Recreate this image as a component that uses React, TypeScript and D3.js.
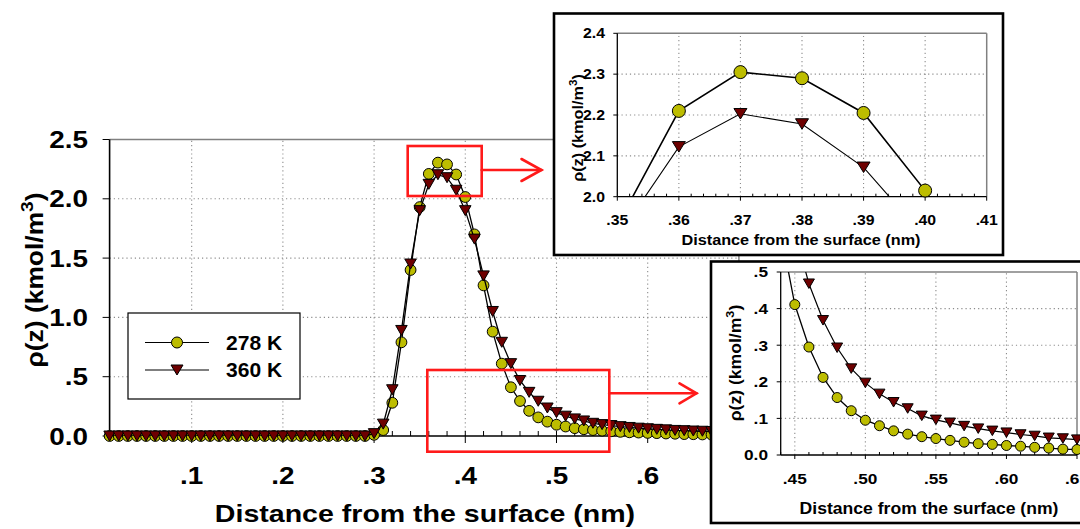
import React from 'react';
import * as d3 from 'd3';

// ---------- DATA ----------
const distance = [
  0.01, 0.02, 0.03, 0.04, 0.05, 0.06, 0.07, 0.08, 0.09, 0.10,
  0.11, 0.12, 0.13, 0.14, 0.15, 0.16, 0.17, 0.18, 0.19, 0.20,
  0.21, 0.22, 0.23, 0.24, 0.25, 0.26, 0.27, 0.28, 0.29, 0.30,
  0.31, 0.32, 0.33, 0.34, 0.35, 0.36, 0.37, 0.38, 0.39, 0.40,
  0.41, 0.42, 0.43, 0.44, 0.45, 0.46, 0.47, 0.48, 0.49, 0.50,
  0.51, 0.52, 0.53, 0.54, 0.55, 0.56, 0.57, 0.58, 0.59, 0.60,
  0.61, 0.62, 0.63, 0.64, 0.65, 0.66, 0.67, 0.68, 0.69, 0.70,
];

const rho278 = [
  0, 0, 0, 0, 0, 0, 0, 0, 0, 0,
  0, 0, 0, 0, 0, 0, 0, 0, 0, 0,
  0, 0, 0, 0, 0, 0, 0, 0, 0, 0.01,
  0.05, 0.28, 0.79, 1.40, 1.93, 2.21, 2.305, 2.29, 2.205, 2.015,
  1.70, 1.27, 0.88, 0.61, 0.411, 0.295, 0.212, 0.157, 0.121, 0.095,
  0.080, 0.066, 0.057, 0.050, 0.045, 0.040, 0.035, 0.031, 0.029, 0.026,
  0.024, 0.021, 0.019, 0.016, 0.015, 0.013, 0.012, 0.011, 0.010, 0.009,
];

const rho360 = [
  0, 0, 0, 0, 0, 0, 0, 0, 0, 0,
  0, 0, 0, 0, 0, 0, 0, 0, 0, 0,
  0, 0, 0, 0, 0, 0, 0, 0, 0, 0.02,
  0.10, 0.39, 0.89, 1.45, 1.90, 2.122, 2.203, 2.178, 2.072, 1.90,
  1.66, 1.35, 1.05, 0.79, 0.61, 0.468, 0.368, 0.293, 0.236, 0.197,
  0.167, 0.144, 0.127, 0.107, 0.096, 0.088, 0.079, 0.072, 0.066, 0.061,
  0.056, 0.052, 0.047, 0.045, 0.042, 0.040, 0.038, 0.036, 0.034, 0.032,
];

const seriesNames = ['278 K', '360 K'];

const mainXTicks = [0.1, 0.2, 0.3, 0.4, 0.5, 0.6, 0.7];
const mainXTickLabels = ['.1', '.2', '.3', '.4', '.5', '.6', '.7'];
const mainYTicks = [0, 0.5, 1.0, 1.5, 2.0, 2.5];
const mainYTickLabels = ['0.0', '.5', '1.0', '1.5', '2.0', '2.5'];

const inset1XTicks = [0.35, 0.36, 0.37, 0.38, 0.39, 0.40, 0.41];
const inset1XTickLabels = ['.35', '.36', '.37', '.38', '.39', '.40', '.41'];
const inset1YTicks = [2.0, 2.1, 2.2, 2.3, 2.4];
const inset1YTickLabels = ['2.0', '2.1', '2.2', '2.3', '2.4'];

const inset2XTicks = [0.45, 0.50, 0.55, 0.60, 0.65];
const inset2XTickLabels = ['.45', '.50', '.55', '.60', '.65'];
const inset2YTicks = [0, 0.1, 0.2, 0.3, 0.4, 0.5];
const inset2YTickLabels = ['0.0', '.1', '.2', '.3', '.4', '.5'];

const xTitle = 'Distance from the surface (nm)';

// ---------- STYLE ----------
const FONT = "'Liberation Sans', Arial, Helvetica, sans-serif";
const C278 = '#bdbd00';
const C360 = '#6e0000';
const GRID = '#8c8c8c';
const RED = '#ff1a1a';

type TProps = {
  x: number; y: number; size: number; sx?: number; rotate?: number;
  anchor?: 'start' | 'middle' | 'end'; children: React.ReactNode;
};
function T({ x, y, size, sx = 1, rotate = 0, anchor = 'middle', children }: TProps) {
  return (
    <text
      transform={`translate(${x},${y}) rotate(${rotate}) scale(${sx},1)`}
      textAnchor={anchor}
      fontSize={size}
      fontWeight="bold"
      fontFamily={FONT}
      fill="#000"
    >
      {children}
    </text>
  );
}

function RhoTitle({ size }: { size: number }) {
  return (
    <>
      <tspan>ρ(z) (kmol/m</tspan>
      <tspan dy={-size * 0.42} fontSize={size * 0.72}>3</tspan>
      <tspan dy={size * 0.42}>)</tspan>
    </>
  );
}

function triPath(w: number, h: number) {
  return `M${-w / 2},${-h / 2}L${w / 2},${-h / 2}L0,${h / 2}Z`;
}

type PlotCfg = {
  id: string;
  xDomain: [number, number]; xRange: [number, number];
  yDomain: [number, number]; yRange: [number, number];
  xTicks: number[]; xTickLabels: string[];
  yTicks: number[]; yTickLabels: string[];
  xMinor: number[];
  xGrid: number[]; yGrid: number[];
  tickFont: number; tickSx: number; yLabelRight: number; xLabelBaseline: number;
  titleFont: number; titleSx: number; titleBaseline: number; titleCenter: number;
  yTitleFont: number; yTitleSx: number; yTitleX: number; yTitleY: number;
  r: number; triW: number; triH: number; lw1: number; lw2: number;
  majorLen: number; minorLen: number; axisW: number;
};

function Plot({ c }: { c: PlotCfg }) {
  const x = d3.scaleLinear().domain(c.xDomain).range(c.xRange);
  const y = d3.scaleLinear().domain(c.yDomain).range(c.yRange);
  const [x0, x1] = c.xRange;
  const [yb, yt] = c.yRange;
  const line = d3.line<[number, number]>().x(d => x(d[0])).y(d => y(d[1]));
  const eps = 1e-9;
  const inDom = (xv: number, yv: number) =>
    xv >= c.xDomain[0] - eps && xv <= c.xDomain[1] + eps && yv >= c.yDomain[0] - eps && yv <= c.yDomain[1] + eps;
  const pts278: [number, number][] = distance.map((d, i) => [d, rho278[i]]);
  const pts360: [number, number][] = distance.map((d, i) => [d, rho360[i]]);
  // only segments near the domain for lines
  const near = (p: [number, number]) => p[0] >= c.xDomain[0] - 0.011 && p[0] <= c.xDomain[1] + 0.011;
  const l278 = pts278.filter(near);
  const l360 = pts360.filter(near);
  const clipId = `clip-${c.id}`;
  return (
    <g>
      <defs>
        <clipPath id={clipId}>
          <rect x={x0} y={yt} width={x1 - x0} height={yb - yt} />
        </clipPath>
      </defs>
      {/* gridlines */}
      {c.xGrid.map((v, i) => (
        <line key={`gx${i}`} x1={x(v)} x2={x(v)} y1={yb} y2={yt} stroke={GRID} strokeWidth={1.1} strokeDasharray="1.2,3" />
      ))}
      {c.yGrid.map((v, i) => (
        <line key={`gy${i}`} x1={x0} x2={x1} y1={y(v)} y2={y(v)} stroke={GRID} strokeWidth={1.1} strokeDasharray="1.2,3" />
      ))}
      {/* plot border top/right */}
      <line x1={x0} x2={x1} y1={yt} y2={yt} stroke="#808080" strokeWidth={1.5} />
      <line x1={x1} x2={x1} y1={yt} y2={yb} stroke="#808080" strokeWidth={1.5} />
      {/* axes */}
      <line x1={x0} x2={x1} y1={yb} y2={yb} stroke="#000" strokeWidth={c.axisW} />
      <line x1={x0} x2={x0} y1={yt} y2={yb} stroke="#000" strokeWidth={c.axisW} />
      {c.xTicks.map((v, i) => (
        <line key={`tx${i}`} x1={x(v)} x2={x(v)} y1={yb} y2={yb + c.majorLen} stroke="#000" strokeWidth={1} />
      ))}
      {c.xMinor.map((v, i) => (
        <line key={`mx${i}`} x1={x(v)} x2={x(v)} y1={yb} y2={yb - c.minorLen} stroke="#000" strokeWidth={1} />
      ))}
      {c.yTicks.map((v, i) => (
        <line key={`ty${i}`} x1={x0 - c.majorLen} x2={x0} y1={y(v)} y2={y(v)} stroke="#000" strokeWidth={1} />
      ))}
      {/* tick labels */}
      {c.yTicks.map((v, i) => (
        <T key={`ly${i}`} x={c.yLabelRight} y={y(v) + c.tickFont * 0.36} size={c.tickFont} sx={c.tickSx} anchor="end">
          {c.yTickLabels[i]}
        </T>
      ))}
      {c.xTicks.map((v, i) => (
        <T key={`lx${i}`} x={x(v)} y={c.xLabelBaseline} size={c.tickFont} sx={c.tickSx}>
          {c.xTickLabels[i]}
        </T>
      ))}
      {/* titles */}
      <T x={c.titleCenter} y={c.titleBaseline} size={c.titleFont} sx={c.titleSx}>{xTitle}</T>
      <T x={c.yTitleX} y={c.yTitleY} size={c.yTitleFont} sx={c.yTitleSx} rotate={-90}>
        <RhoTitle size={c.yTitleFont} />
      </T>
      {/* series 278 K */}
      <path d={line(l278) || ''} fill="none" stroke="#000" strokeWidth={c.lw1} clipPath={`url(#${clipId})`} />
      {pts278.filter(p => inDom(p[0], p[1])).map((p, i) => (
        <circle key={`c${i}`} cx={x(p[0])} cy={y(p[1])} r={c.r} fill={C278} stroke="#000" strokeWidth={1} />
      ))}
      {/* series 360 K */}
      <path d={line(l360) || ''} fill="none" stroke="#000" strokeWidth={c.lw2} clipPath={`url(#${clipId})`} />
      {pts360.filter(p => inDom(p[0], p[1])).map((p, i) => (
        <path key={`t${i}`} d={triPath(c.triW, c.triH)} transform={`translate(${x(p[0])},${y(p[1])})`} fill={C360} stroke="#000" strokeWidth={1} />
      ))}
    </g>
  );
}

const mainCfg: PlotCfg = {
  id: 'main',
  xDomain: [0.01, 0.70], xRange: [109.6, 738.9],
  yDomain: [0, 2.5], yRange: [436, 139.5],
  xTicks: mainXTicks, xTickLabels: mainXTickLabels,
  yTicks: mainYTicks, yTickLabels: mainYTickLabels,
  xMinor: d3.range(0.02, 0.705, 0.02),
  xGrid: mainXTicks.slice(0, -1), yGrid: [0.5, 1.0, 1.5, 2.0],
  tickFont: 24, tickSx: 1.16, yLabelRight: 88, xLabelBaseline: 484,
  titleFont: 24, titleSx: 1.19, titleBaseline: 522, titleCenter: 425,
  yTitleFont: 24, yTitleSx: 1.1, yTitleX: 43, yTitleY: 280,
  r: 5.4, triW: 11.5, triH: 10, lw1: 1.3, lw2: 1.3,
  majorLen: 7, minorLen: 5, axisW: 1.6,
};

const inset1Cfg: PlotCfg = {
  id: 'in1',
  xDomain: [0.35, 0.41], xRange: [617.3, 986.7],
  yDomain: [2.0, 2.4], yRange: [196.7, 33.3],
  xTicks: inset1XTicks, xTickLabels: inset1XTickLabels,
  yTicks: inset1YTicks, yTickLabels: inset1YTickLabels,
  xMinor: d3.range(0.352, 0.4095, 0.002).filter(v => Math.abs(Math.round(v * 100) - v * 100) > 1e-6),
  xGrid: [0.36, 0.37, 0.38, 0.39, 0.40], yGrid: [2.1, 2.2, 2.3],
  tickFont: 14, tickSx: 1.13, yLabelRight: 605, xLabelBaseline: 225,
  titleFont: 14, titleSx: 1.16, titleBaseline: 245, titleCenter: 801,
  yTitleFont: 14, yTitleSx: 1.16, yTitleX: 583, yTitleY: 128,
  r: 6.5, triW: 13, triH: 10.5, lw1: 1.6, lw2: 1.1,
  majorLen: 4, minorLen: 3, axisW: 1.3,
};

const inset2Cfg: PlotCfg = {
  id: 'in2',
  xDomain: [0.44, 0.65], xRange: [780.7, 1077],
  yDomain: [0, 0.5], yRange: [455, 272],
  xTicks: inset2XTicks, xTickLabels: inset2XTickLabels,
  yTicks: inset2YTicks, yTickLabels: inset2YTickLabels,
  xMinor: d3.range(0.44, 0.655, 0.01).filter(v => Math.abs(Math.round(v * 20) - v * 20) > 1e-6),
  xGrid: [0.45, 0.50, 0.55, 0.60], yGrid: [0.1, 0.2, 0.3, 0.4],
  tickFont: 15, tickSx: 1.15, yLabelRight: 768, xLabelBaseline: 484,
  titleFont: 16, titleSx: 1.1, titleBaseline: 514, titleCenter: 929,
  yTitleFont: 16, yTitleSx: 1.1, yTitleX: 741, yTitleY: 363,
  r: 5, triW: 11, triH: 9.5, lw1: 1.3, lw2: 1.2,
  majorLen: 4, minorLen: 3, axisW: 1.3,
};

function Legend() {
  const rows = [342.5, 370];
  return (
    <g>
      <rect x={128} y={313} width={172} height={86} fill="#fff" stroke="#000" strokeWidth={1.2} />
      {seriesNames.map((name, i) => (
        <g key={name}>
          <line x1={145} x2={209} y1={rows[i]} y2={rows[i]} stroke="#000" strokeWidth={1.2} />
          {i === 0 ? (
            <circle cx={177} cy={rows[i]} r={5.5} fill={C278} stroke="#000" strokeWidth={1} />
          ) : (
            <path d={triPath(12, 10)} transform={`translate(177,${rows[i]})`} fill={C360} stroke="#000" strokeWidth={1} />
          )}
          <T x={226} y={rows[i] + 7} size={19.5} sx={1.08} anchor="start">{name}</T>
        </g>
      ))}
    </g>
  );
}

function Arrow({ x1, x2, y, arm, spread }: { x1: number; x2: number; y: number; arm: number; spread: number }) {
  return (
    <g stroke={RED} strokeWidth={2.6} fill="none" strokeLinecap="round" strokeLinejoin="miter">
      <line x1={x1} x2={x2} y1={y} y2={y} />
      <path d={`M${x2 - arm},${y - spread}L${x2},${y}L${x2 - arm},${y + spread}`} />
    </g>
  );
}

export default function App() {
  return (
    <svg
      width={1080}
      height={529}
      viewBox="0 0 1080 529"
      style={{ position: 'absolute', left: 0, top: 0, background: '#fff' }}
    >
      <rect x={0} y={0} width={1080} height={529} fill="#fff" />
      <Plot c={mainCfg} />
      <Legend />
      {/* zoom markers */}
      <rect x={407.7} y={146} width={74} height={50} fill="none" stroke={RED} strokeWidth={2.6} />
      <Arrow x1={481.7} x2={541.5} y={170} arm={20} spread={11} />
      <rect x={427.3} y={370} width={182} height={81.7} fill="none" stroke={RED} strokeWidth={2.6} />
      <Arrow x1={609.3} x2={696.5} y={393.3} arm={17} spread={10} />
      {/* inset 1 */}
      <rect x={554} y={13.5} width={449} height={241.5} fill="#fff" stroke="#000" strokeWidth={2.6} />
      <Plot c={inset1Cfg} />
      {/* inset 2 */}
      <rect x={711} y={261.5} width={400} height={261.5} fill="#fff" stroke="#000" strokeWidth={2.6} />
      <Plot c={inset2Cfg} />
    </svg>
  );
}
